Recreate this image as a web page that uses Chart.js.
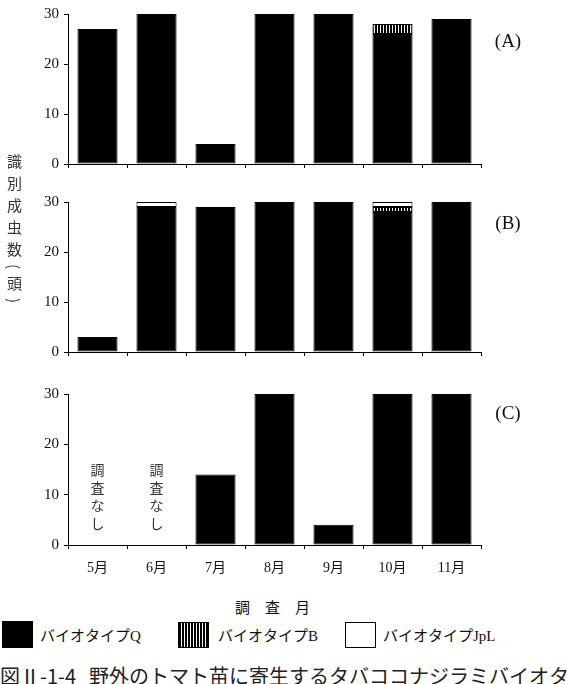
<!DOCTYPE html>
<html>
<head>
<meta charset="utf-8">
<script src="https://cdn.jsdelivr.net/npm/chart.js@4"></script>
<style>
  body { margin: 0; background: #fff; }
  #wrap { position: relative; width: 567px; height: 684px; overflow: hidden; background: #fff; }
  canvas { position: absolute; left: 0; }
  .txt { position: absolute; color: #111; font-family: "Liberation Serif", "Noto Sans CJK JP", serif; white-space: nowrap; }
  .ytitle { left: 4px; top: 154px; writing-mode: vertical-rl; font-size: 15px; letter-spacing: 7px; color: #333; font-family: "Noto Sans CJK JP", sans-serif; }
  .cap { font-size: 20px; line-height: 24px; font-family: "Noto Sans CJK JP", sans-serif; color: #222; }
  .box { position: absolute; box-sizing: border-box; }
</style>
</head>
<body>
<div id="wrap">
  <canvas id="chartA" width="567" height="180" style="top:0px"></canvas>
  <canvas id="chartB" width="567" height="180" style="top:188px"></canvas>
  <canvas id="chartC" width="567" height="200" style="top:380px"></canvas>

  <div class="txt ytitle">識別成虫数(頭)</div>
  <div class="txt" style="left:235px; top:596px; font-size:15px; font-family:'Noto Sans CJK JP';">調　査　月</div>

  <div class="box" style="left:2px; top:621px; width:31px; height:27px; background:#000;"></div>
  <div class="txt" style="left:40px; top:624px; font-size:15px;">バイオタイプQ</div>
  <div class="box" style="left:178px; top:622px; width:31px; height:26px; border:1px solid #000; background:repeating-linear-gradient(90deg, #000 0 2px, #fff 2px 3px);"></div>
  <div class="txt" style="left:218px; top:624px; font-size:15px;">バイオタイプB</div>
  <div class="box" style="left:345px; top:622px; width:31px; height:26px; border:1px solid #000; background:#fff;"></div>
  <div class="txt" style="left:383px; top:624px; font-size:15px;">バイオタイプJpL</div>

  <div class="txt cap" style="left:0px; top:664px;">図Ⅱ-1-4</div>
  <div class="txt cap" style="left:89px; top:664px;">野外のトマト苗に寄生するタバココナジラミバイオタイプ</div>
</div>
<script>
const months = ['5月', '6月', '7月', '8月', '9月', '10月', '11月'];
const yTicks = [0, 10, 20, 30];

// (A)
const qA = [27, 30, 4, 30, 30, 26, 29];
const bA = [0, 0, 0, 0, 0, 2, 0];
const jA = [0, 0, 0, 0, 0, 0, 0];
// (B)
const qB = [3, 29, 29, 30, 30, 28, 30];
const bB = [0, 0, 0, 0, 0, 1, 0];
const jB = [0, 1, 0, 0, 0, 1, 0];
// (C)  null = 調査なし
const qC = [null, null, 14, 30, 4, 30, 30];
const bC = [null, null, 0, 0, 0, 0, 0];
const jC = [null, null, 0, 0, 0, 0, 0];

const serif = '"Liberation Serif", "Noto Sans CJK JP", serif';

// vertical stripes for biotype B
function stripePattern() {
    const c = document.createElement('canvas');
    c.width = 3; c.height = 1;
    const g = c.getContext('2d');
    g.fillStyle = '#fff';
    g.fillRect(0, 0, 3, 1);
    g.fillStyle = '#000';
    g.fillRect(0, 0, 2, 1);
    return g.createPattern(c, 'repeat');
}

const panelPlugin = {
    id: 'panel',
    afterDraw(chart, args, opts) {
        const ctx = chart.ctx;
        const area = chart.chartArea;
        ctx.save();
        ctx.fillStyle = '#111';
        ctx.font = '19px ' + serif;
        ctx.textAlign = 'center';
        ctx.textBaseline = 'middle';
        ctx.fillText(opts.label, area.right + 27, area.top + opts.dy);

        // 調査なし
        if (opts.missing) {
            const xs = chart.scales.x, ys = chart.scales.y;
            ctx.font = '14px "Noto Sans CJK JP", sans-serif';
            ctx.fillStyle = '#333';
            opts.missing.forEach((v, i) => {
                if (v !== null) return;
                const x = xs.getPixelForValue(i);
                const y0 = ys.getPixelForValue(15);
                '調査なし'.split('').forEach((ch, k) => ctx.fillText(ch, x, y0 + k * 18));
            });
        }
        ctx.restore();
    }
};

function clean(arr) {
    return arr.map(v => (v ? v : null));
}

function makeChart(id, q, b, j, label, dy, showLabels, xHeight) {
    const pattern = stripePattern();
    return new Chart(document.getElementById(id), {
        type: 'bar',
        data: {
            labels: months,
            datasets: [
                { label: 'バイオタイプQ', data: clean(q), backgroundColor: '#000', borderColor: '#000', borderWidth: 1 },
                { label: 'バイオタイプB', data: clean(b), backgroundColor: pattern, borderColor: '#000', borderWidth: 1 },
                { label: 'バイオタイプJpL', data: clean(j), backgroundColor: '#fff', borderColor: '#000', borderWidth: 1 }
            ]
        },
        options: {
            responsive: false,
            animation: false,
            layout: { padding: { top: 13, left: 0, right: 86, bottom: 0 } },
            datasets: { bar: { barPercentage: 0.68, categoryPercentage: 1, borderSkipped: false } },
            scales: {
                x: {
                    stacked: true,
                    border: { display: true, color: '#000', width: 1 },
                    grid: { offset: true, drawOnChartArea: false, drawTicks: true, tickLength: 4, color: '#000' },
                    ticks: { display: showLabels, color: '#111', font: { size: 14, family: serif }, padding: 11, maxRotation: 0 },
                    afterFit: s => { s.height = xHeight; }
                },
                y: {
                    stacked: true,
                    min: 0,
                    max: 30,
                    border: { display: true, color: '#000', width: 1 },
                    grid: { drawOnChartArea: false, drawTicks: true, tickLength: 4, color: '#000' },
                    ticks: { color: '#111', font: { size: 15, family: serif }, padding: 5 },
                    afterBuildTicks: s => { s.ticks = yTicks.map(v => ({ value: v })); },
                    afterFit: s => { s.width = 68; }
                }
            },
            plugins: {
                legend: { display: false },
                tooltip: { enabled: false },
                panel: { label: label, dy: dy, missing: id === 'chartC' ? qC : null }
            }
        },
        plugins: [panelPlugin]
    });
}

makeChart('chartA', qA, bA, jA, '(A)', 28, false, 16);
makeChart('chartB', qB, bB, jB, '(B)', 22, false, 16);
makeChart('chartC', qC, bC, jC, '(C)', 20, true, 35);
</script>
</body>
</html>
